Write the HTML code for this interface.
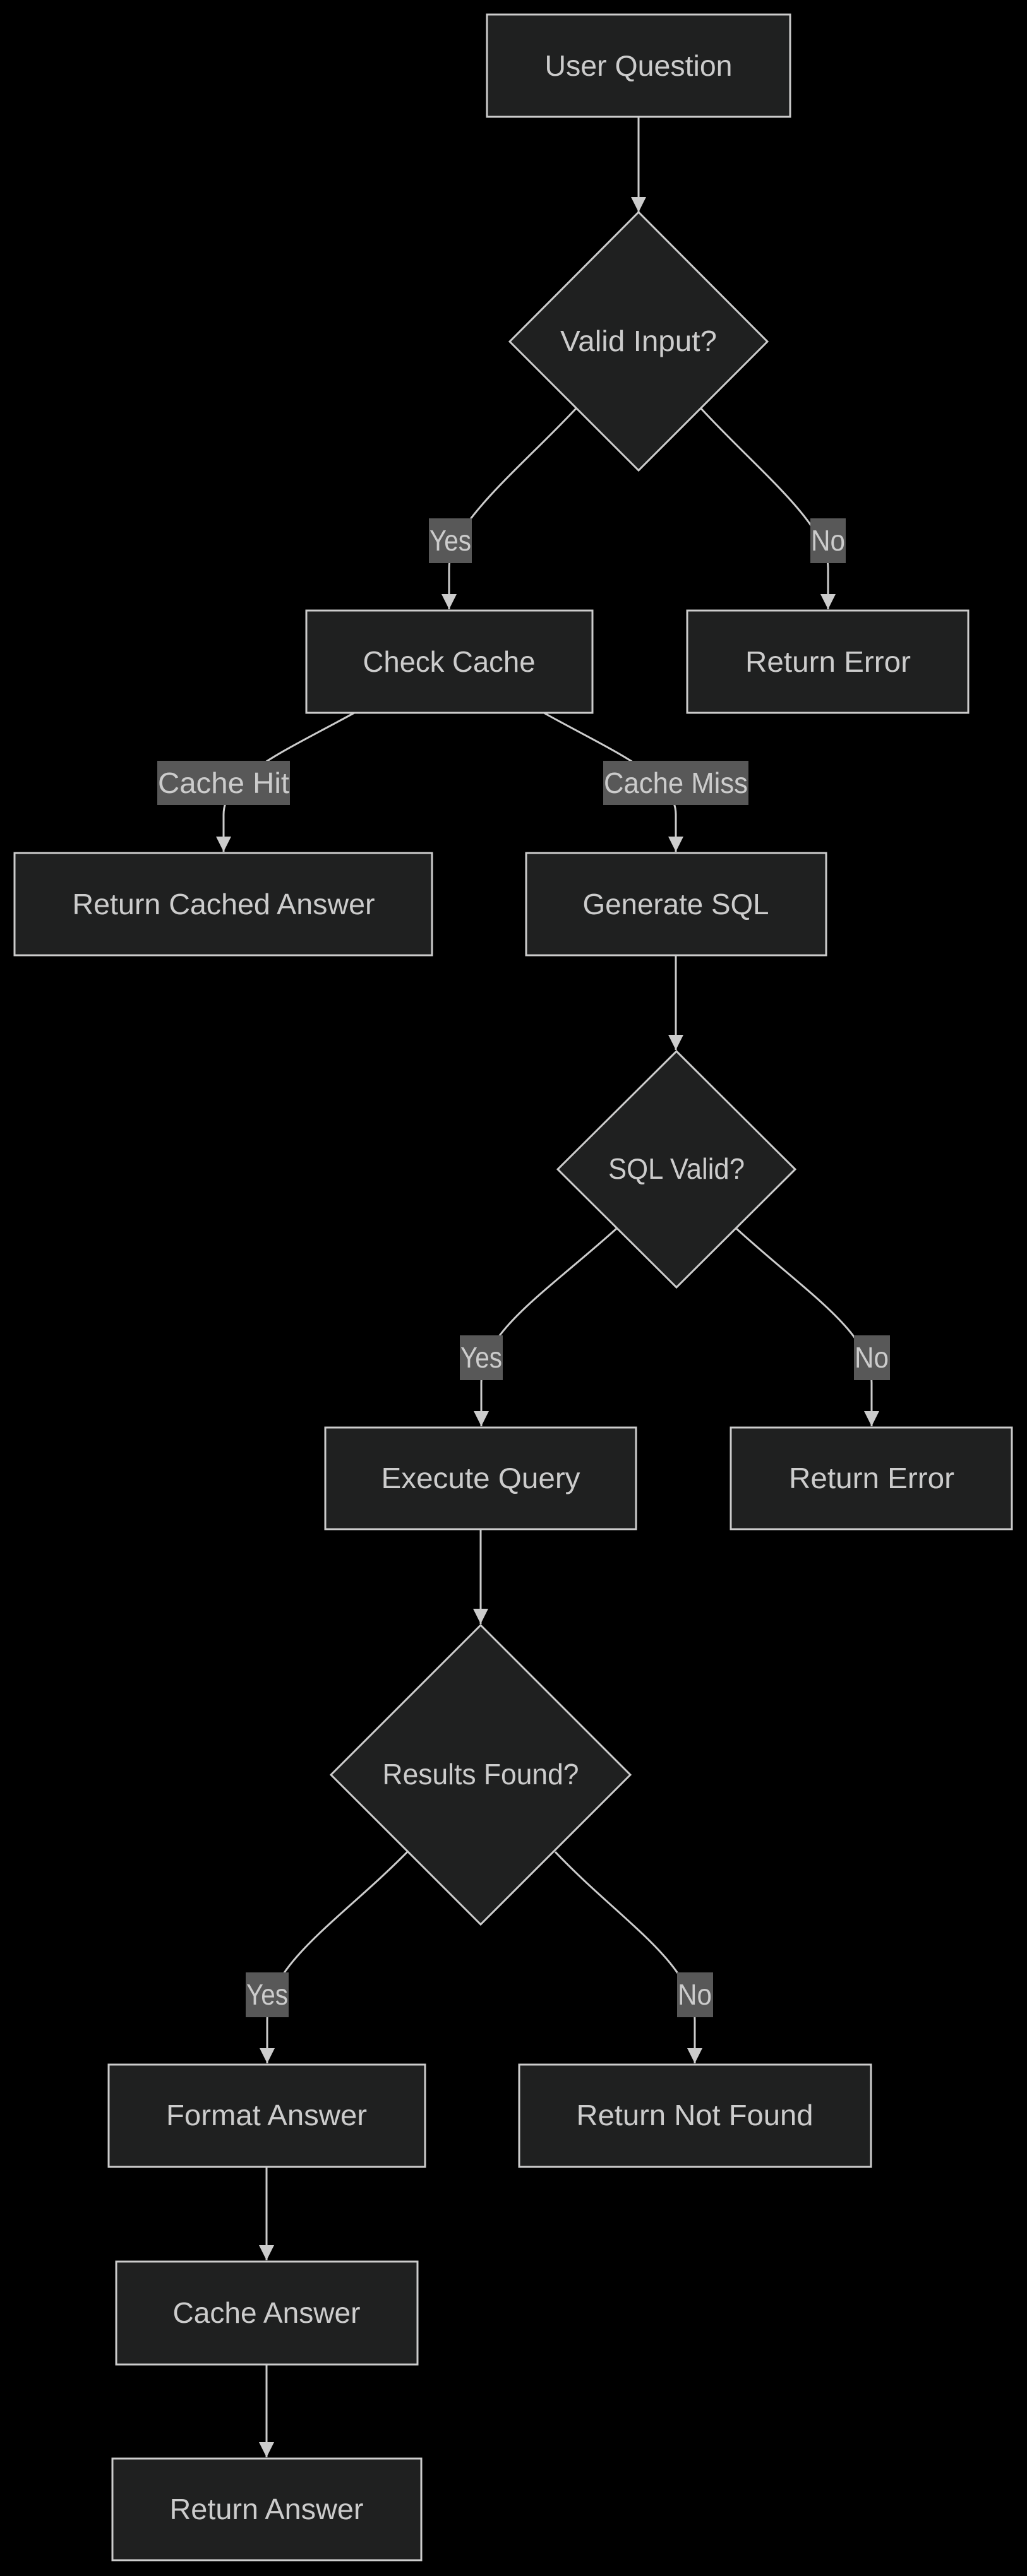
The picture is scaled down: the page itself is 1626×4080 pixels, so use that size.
<!DOCTYPE html>
<html><head><meta charset="utf-8"><style>
html,body{margin:0;padding:0;background:#000;}
svg{display:block;}
text{font-family:"Liberation Sans","DejaVu Sans",sans-serif;fill:#ccc;font-size:46px;}
.n{fill:#1f2020;stroke:#ccc;stroke-width:3;}
.e{fill:none;stroke:#ccc;stroke-width:3;}
.lb{fill:#585858;}
</style></head><body>
<svg width="1626" height="4080" viewBox="0 0 1626 4080" xmlns="http://www.w3.org/2000/svg">
<defs><marker id="a" viewBox="0 0 10 10" refX="9" refY="5" markerWidth="7" markerHeight="7" markerUnits="userSpaceOnUse" orient="auto"><path d="M0,0 L10,5 L0,10 z" fill="#ccc"/></marker>
<marker id="ar" viewBox="0 0 10 10" refX="10" refY="5" markerWidth="24" markerHeight="24" markerUnits="userSpaceOnUse" orient="auto"><path d="M0,0 L10,5 L0,10 z" fill="#ccc"/></marker></defs>

<!-- edges -->
<path class="e" marker-end="url(#ar)" d="M1011,185 L1011,336"/>
<path class="e" marker-end="url(#ar)" d="M912,647 C820,745 711,830 711,900 L711,965"/>
<path class="e" marker-end="url(#ar)" d="M1110,647 C1200,745 1311,830 1311,900 L1311,965"/>
<path class="e" marker-end="url(#ar)" d="M561,1129 C450,1190 354,1230 354,1290 L354,1349"/>
<path class="e" marker-end="url(#ar)" d="M861,1129 C970,1190 1070,1230 1070,1290 L1070,1349"/>
<path class="e" marker-end="url(#ar)" d="M1070,1513 L1070,1663"/>
<path class="e" marker-end="url(#ar)" d="M976,1946 C860,2050 762,2110 762,2190 L762,2259"/>
<path class="e" marker-end="url(#ar)" d="M1166,1946 C1280,2050 1380,2110 1380,2190 L1380,2259"/>
<path class="e" marker-end="url(#ar)" d="M761,2422 L761,2572"/>
<path class="e" marker-end="url(#ar)" d="M645,2933 C540,3040 423,3110 423,3200 L423,3268"/>
<path class="e" marker-end="url(#ar)" d="M879,2933 C980,3040 1100,3110 1100,3200 L1100,3268"/>
<path class="e" marker-end="url(#ar)" d="M422,3432 L422,3580"/>
<path class="e" marker-end="url(#ar)" d="M422,3745 L422,3892"/>

<!-- nodes -->
<rect class="n" x="771" y="23" width="480" height="162"/>
<text x="1011" y="120" text-anchor="middle" textLength="297" lengthAdjust="spacingAndGlyphs">User Question</text>

<polygon class="n" points="1011,336 1215,541 1011,745 807,541"/>
<text x="1011" y="556" text-anchor="middle" textLength="248" lengthAdjust="spacingAndGlyphs">Valid Input?</text>

<rect class="n" x="485" y="967" width="453" height="162"/>
<text x="711" y="1064" text-anchor="middle" textLength="273" lengthAdjust="spacingAndGlyphs">Check Cache</text>
<rect class="n" x="1088" y="967" width="445" height="162"/>
<text x="1311" y="1064" text-anchor="middle" textLength="262" lengthAdjust="spacingAndGlyphs">Return Error</text>

<rect class="n" x="23" y="1351" width="661" height="162"/>
<text x="354" y="1448" text-anchor="middle" textLength="479" lengthAdjust="spacingAndGlyphs">Return Cached Answer</text>
<rect class="n" x="833" y="1351" width="475" height="162"/>
<text x="1070" y="1448" text-anchor="middle" textLength="295" lengthAdjust="spacingAndGlyphs">Generate SQL</text>

<polygon class="n" points="1071,1665 1259,1852 1071,2039 883,1852"/>
<text x="1071" y="1867" text-anchor="middle" textLength="216" lengthAdjust="spacingAndGlyphs">SQL Valid?</text>

<rect class="n" x="515" y="2261" width="492" height="161"/>
<text x="761" y="2357" text-anchor="middle" textLength="315" lengthAdjust="spacingAndGlyphs">Execute Query</text>
<rect class="n" x="1157" y="2261" width="445" height="161"/>
<text x="1380" y="2357" text-anchor="middle" textLength="262" lengthAdjust="spacingAndGlyphs">Return Error</text>

<polygon class="n" points="761,2574 998,2811 761,3048 524,2811"/>
<text x="761" y="2826" text-anchor="middle" textLength="311" lengthAdjust="spacingAndGlyphs">Results Found?</text>

<rect class="n" x="172" y="3270" width="501" height="162"/>
<text x="422" y="3366" text-anchor="middle" textLength="318" lengthAdjust="spacingAndGlyphs">Format Answer</text>
<rect class="n" x="822" y="3270" width="557" height="162"/>
<text x="1100" y="3366" text-anchor="middle" textLength="375" lengthAdjust="spacingAndGlyphs">Return Not Found</text>

<rect class="n" x="184" y="3582" width="477" height="163"/>
<text x="422" y="3679" text-anchor="middle" textLength="297" lengthAdjust="spacingAndGlyphs">Cache Answer</text>
<rect class="n" x="178" y="3894" width="489" height="161"/>
<text x="422" y="3990" text-anchor="middle" textLength="307" lengthAdjust="spacingAndGlyphs">Return Answer</text>

<!-- edge labels -->
<rect class="lb" x="679" y="821" width="68" height="71"/>
<text x="713" y="872" text-anchor="middle" textLength="66" lengthAdjust="spacingAndGlyphs">Yes</text>
<rect class="lb" x="1283" y="821" width="56" height="71"/>
<text x="1311" y="872" text-anchor="middle" textLength="54" lengthAdjust="spacingAndGlyphs">No</text>

<rect class="lb" x="249" y="1205" width="210" height="70"/>
<text x="354" y="1256" text-anchor="middle" textLength="208" lengthAdjust="spacingAndGlyphs">Cache Hit</text>
<rect class="lb" x="955" y="1205" width="230" height="70"/>
<text x="1070" y="1256" text-anchor="middle" textLength="228" lengthAdjust="spacingAndGlyphs">Cache Miss</text>

<rect class="lb" x="728" y="2115" width="68" height="71"/>
<text x="762" y="2166" text-anchor="middle" textLength="66" lengthAdjust="spacingAndGlyphs">Yes</text>
<rect class="lb" x="1352" y="2115" width="57" height="71"/>
<text x="1380" y="2166" text-anchor="middle" textLength="54" lengthAdjust="spacingAndGlyphs">No</text>

<rect class="lb" x="389" y="3124" width="68" height="71"/>
<text x="423" y="3175" text-anchor="middle" textLength="66" lengthAdjust="spacingAndGlyphs">Yes</text>
<rect class="lb" x="1072" y="3124" width="57" height="71"/>
<text x="1100" y="3175" text-anchor="middle" textLength="54" lengthAdjust="spacingAndGlyphs">No</text>
</svg>
</body></html>
